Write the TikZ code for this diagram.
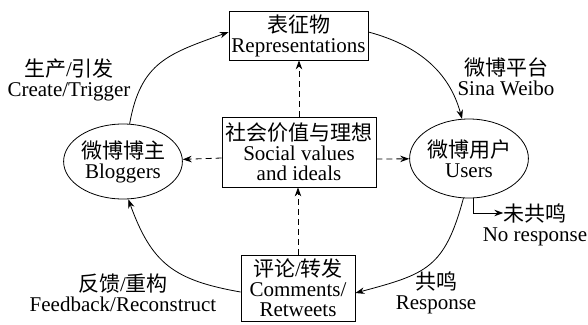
\documentclass[tikz,border=0pt]{standalone}
\usepackage{fontspec}
\setmainfont{Liberation Serif}
\newfontfamily\cjk{Noto Sans CJK SC}
\usetikzlibrary{arrows.meta,shapes.geometric}
\newcommand\zh[1]{{\cjk #1}}
\begin{document}
\begin{tikzpicture}[x=1pt,y=1pt,
  every node/.style={font=\fontsize{21}{20}\selectfont, align=center, inner sep=0pt},
  boxnode/.style={draw, line width=0.8pt},
  ellnode/.style={draw, ellipse, line width=0.8pt},
  flow/.style={-{Stealth[length=9pt,width=6.5pt]}, line width=0.8pt},
  link/.style={flow, dash pattern=on 6pt off 4pt}]
\useasboundingbox (0,0) rectangle (588,-324);

% boxes and ellipses
\node[boxnode, minimum width=139pt, minimum height=49pt] (rep) at (298.5,-35.5) {\zh{表征物}\\Representations};
\node[boxnode, minimum width=154pt, minimum height=70pt] (values) at (299,-152) {\zh{社会价值与理想}\\Social values\\and ideals};
\node[boxnode, minimum width=114pt, minimum height=66pt] (comm) at (298,-288) {\zh{评论}/\zh{转发}\\Comments/\\Retweets};
\node[ellnode, minimum width=96pt, minimum height=75pt] (blog) at (123,-161.5) {\zh{微博博主}\\Bloggers};
\node[ellnode, minimum width=96pt, minimum height=79pt] (users) at (469,-158.5) {\zh{微博用户}\\Users};

% labels
\node (lcreate) at (69,-80) {\zh{生产}/\zh{引发}\\Create/Trigger};
\node (lweibo) at (506,-77) {\zh{微博平台}\\Sina Weibo};
\node (lresp) at (436,-293) {\zh{共鸣}\\Response};
\node (lfeed) at (123,-293) {\zh{反馈}/\zh{重构}\\Feedback/Reconstruct};
\node (nrzh) at (535,-213) {\zh{未共鸣}};
\node (nren) at (535,-237) {No response};

% cycle
\draw[flow] (blog.80) to[out=80,in=200,looseness=1.2] ([yshift=3.5pt]rep.west);
\draw[flow] ([yshift=3.5pt]rep.east) to[out=-15,in=105] (users.100);
\draw[flow] (users.262) to[out=255,in=15,looseness=1.3] ([yshift=-5pt]comm.east);
\draw[flow] ([yshift=-4pt]comm.west) to[out=170,in=290,looseness=1.2] (blog.278);
\draw[flow] (users.277) |- (nrzh.west);

% influence of values
\draw[link] (values.north) -- (values.north |- rep.south);
\draw[link] (comm.north) -- (comm.north |- values.south);
\draw[link] ([yshift=-6pt]values.west) -- (blog);
\draw[link] ([yshift=-7pt]values.east) -- (users);
\end{tikzpicture}
\end{document}
